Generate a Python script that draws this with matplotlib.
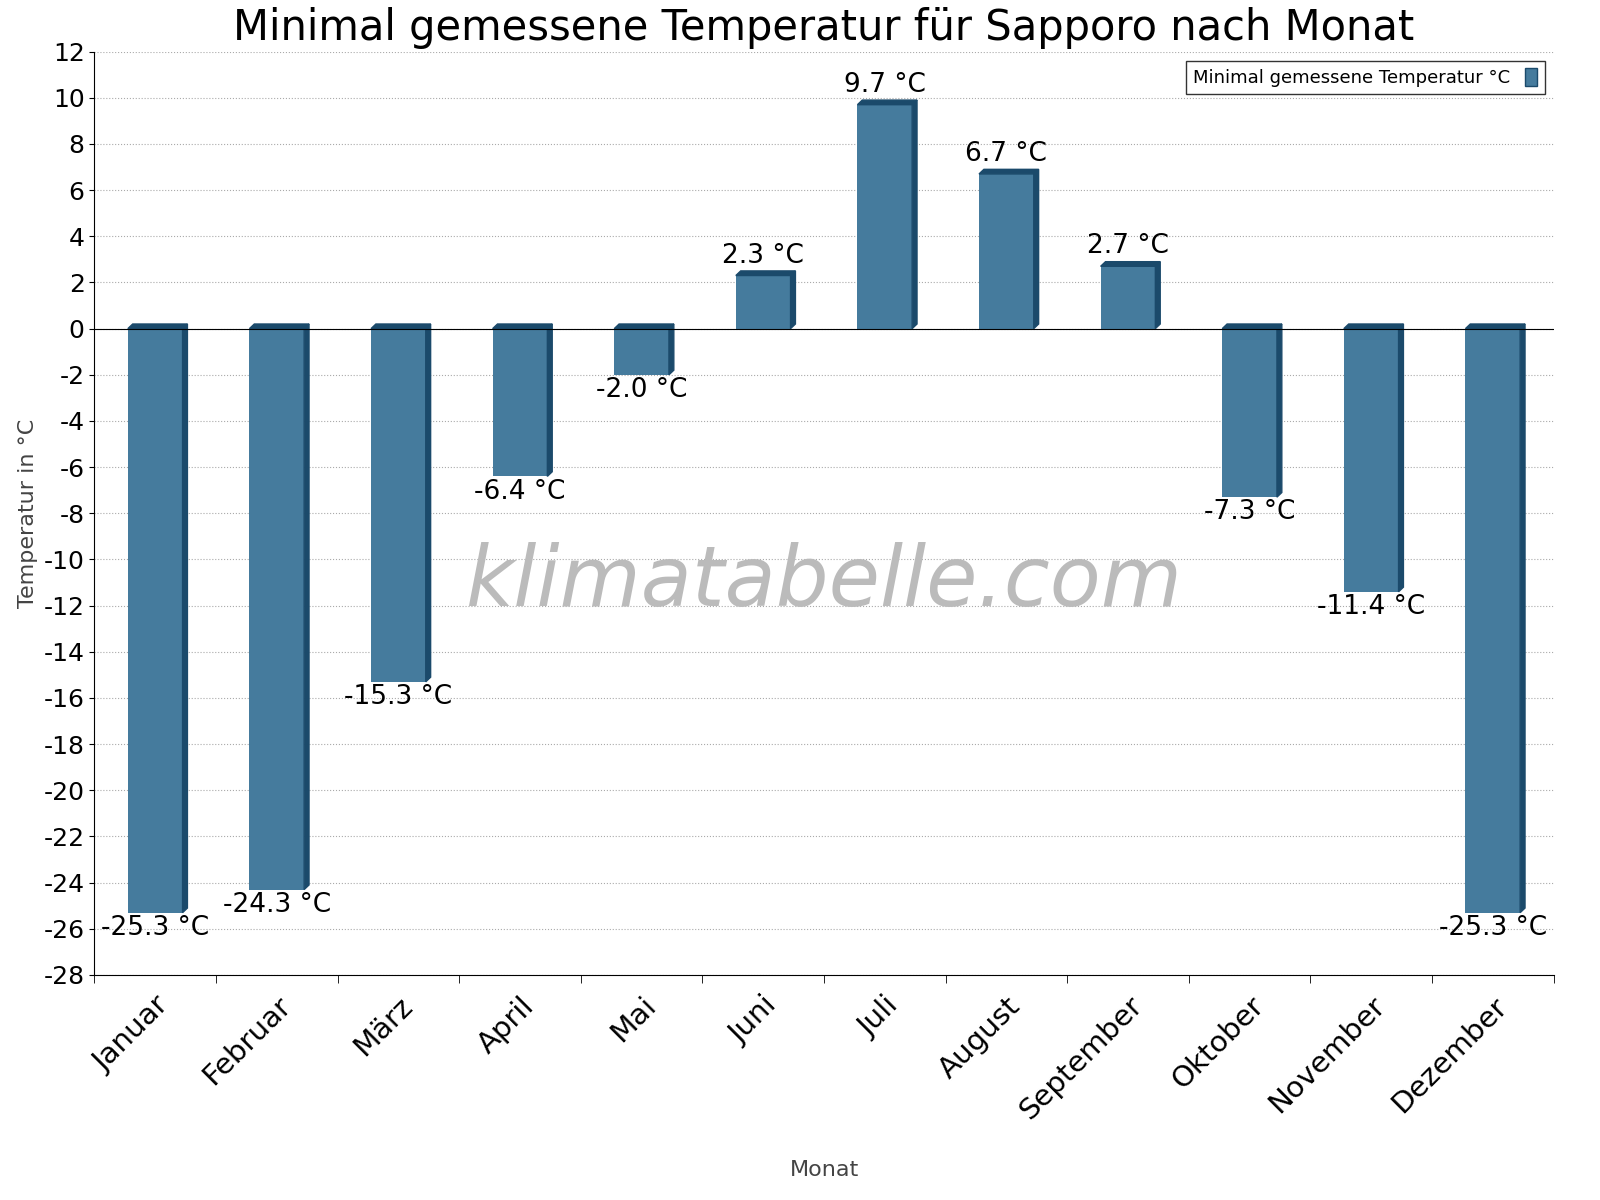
import matplotlib
matplotlib.use("Agg")
import matplotlib.pyplot as plt
from matplotlib.patches import Polygon
import numpy as np

months = ["Januar","Februar","März","April","Mai","Juni","Juli","August","September","Oktober","November","Dezember"]
temps = [-25.3,-24.3,-15.3,-6.4,-2.0,2.3,9.7,6.7,2.7,-7.3,-11.4,-25.3]
yticks = list(range(-28, 13, 2))

fig = plt.figure(figsize=(16,12), dpi=100)
ax = fig.add_axes([0.059, 0.1875, 0.912, 0.7695])
ax.set_xlim(0, 12)
ax.set_ylim(-28, 12)
face = "#457b9d"; side = "#1b4a6b"
w = 0.45
dx = 0.04; dy = 0.2
for i, v in enumerate(temps):
    x0 = i + 0.5 - w/2
    ax.bar(i + 0.5, v, width=w, color=face, zorder=3)
    top = max(v, 0)
    ax.add_patch(Polygon([(x0+w, 0), (x0+w, v), (x0+w+dx, v+dy), (x0+w+dx, dy)], closed=True, color=side, zorder=3))
    ax.add_patch(Polygon([(x0, top), (x0+w, top), (x0+w+dx, top+dy), (x0+dx, top+dy)], closed=True, color=side, zorder=3))
    lbl = f"{v:.1f} °C"
    if v >= 0:
        ax.text(i + 0.5, v + 0.3, lbl, ha="center", va="bottom", fontsize=19, zorder=4)
    else:
        ax.text(i + 0.5, v - 0.1, lbl, ha="center", va="top", fontsize=19, zorder=4)

ax.axhline(0, color="black", lw=0.8, zorder=4)
ax.set_yticks(yticks)
ax.set_yticklabels([str(t) for t in yticks], fontsize=18)
ax.set_xticks(np.arange(12) + 0.5)
ax.set_xticklabels(months, rotation=45, ha="right", rotation_mode="anchor", fontsize=21)
ax.tick_params(axis="x", length=0, pad=12)
ax.set_xticks(np.arange(13), minor=True)
ax.tick_params(axis="x", which="minor", length=6)
ax.grid(axis="y", linestyle=":", color="#aaaaaa", zorder=0)
for s in ["top", "right"]:
    ax.spines[s].set_visible(False)
ax.set_ylabel("Temperatur in °C", fontsize=16, color="#444444")
ax.set_xlabel("Monat", fontsize=16, color="#444444", labelpad=25)
ax.set_title("Minimal gemessene Temperatur für Sapporo nach Monat", fontsize=30, pad=8)
ax.text(6, -11, "klimatabelle.com", fontsize=60, color="#bbbbbb", style="italic", ha="center", va="center", zorder=2)
leg = ax.legend(handles=[plt.Rectangle((0,0),1,1,color=face, ec=side)], labels=["Minimal gemessene Temperatur °C"],
                loc="upper right", fontsize=13, fancybox=False, edgecolor="black", markerfirst=False,
                handlelength=0.7, handleheight=1.2)
fig.savefig("out.png", dpi=100)
